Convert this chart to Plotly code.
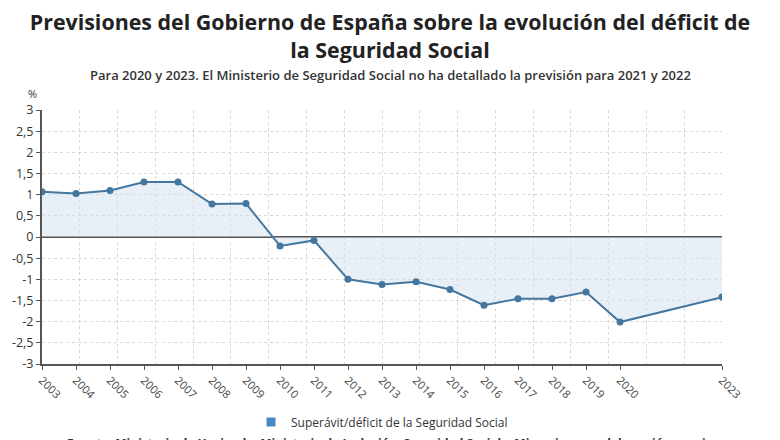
import plotly.graph_objects as go

years = [2003, 2004, 2005, 2006, 2007, 2008, 2009, 2010, 2011, 2012,
         2013, 2014, 2015, 2016, 2017, 2018, 2019, 2020, 2023]
values = [1.07, 1.03, 1.10, 1.30, 1.30, 0.78, 0.79, -0.21, -0.08, -1.00,
          -1.12, -1.06, -1.24, -1.61, -1.46, -1.46, -1.30, -2.01, -1.42]
y_tick_vals = [3, 2.5, 2, 1.5, 1, 0.5, 0, -0.5, -1, -1.5, -2, -2.5, -3]
y_tick_text = ["3", "2,5", "2", "1,5", "1", "0,5", "0", "-0,5", "-1", "-1,5", "-2", "-2,5", "-3"]
series_name = "Superávit/déficit de la Seguridad Social"

FONT = "Open Sans"
LINE = "#44779f"

fig = go.Figure()
fig.add_trace(go.Scatter(
    x=years, y=values, mode="lines+markers", fill="tozeroy",
    fillcolor="rgba(214,226,240,0.55)",
    line=dict(color=LINE, width=2), marker=dict(color=LINE, size=7),
    showlegend=False, name=series_name))
fig.add_trace(go.Scatter(
    x=[None], y=[None], mode="markers", name=series_name,
    marker=dict(symbol="square", color="#4a8ac4", size=9)))
# invisible helper trace to draw vertical grid on an overlay axis
fig.add_trace(go.Scatter(x=[0, 18], y=[0, 0], xaxis="x2", mode="none",
                         hoverinfo="skip", showlegend=False))

fig.update_layout(
    width=780, height=440,
    margin=dict(l=42, r=58, t=110, b=76, autoexpand=False),
    paper_bgcolor="white", plot_bgcolor="white",
    font=dict(family=FONT, color="#333"),
    title=dict(text="<b>Previsiones del Gobierno de España sobre la evolución del déficit de<br>la Seguridad Social</b>",
               x=0.5, xanchor="center", y=1 - 30 / 440, yanchor="middle",
               font=dict(family=FONT, size=21.4, color="#222")),
    xaxis=dict(range=[2003, 2023], tickvals=years, ticktext=[str(y) for y in years],
               tickangle=45, showgrid=False, zeroline=False, automargin=False,
               showline=True, linecolor="#555", linewidth=1.5,
               ticks="outside", ticklen=4, tickcolor="#555",
               tickfont=dict(size=11, color="#444")),
    xaxis2=dict(range=[0, 18], dtick=1, overlaying="x", showticklabels=False,
                showgrid=True, gridcolor="#d8d8d8", griddash="dot", gridwidth=1,
                zeroline=False, showline=False, ticks="", automargin=False),
    yaxis=dict(range=[-3, 3], tickvals=y_tick_vals, ticktext=y_tick_text,
               showgrid=True, gridcolor="#d8d8d8", griddash="dot", automargin=False,
               zeroline=True, zerolinecolor="#555", zerolinewidth=2,
               showline=True, linecolor="#555", linewidth=2,
               ticks="outside", ticklen=4, tickcolor="#555",
               tickfont=dict(size=12.5, color="#333")),
    legend=dict(orientation="h", x=0.5, xanchor="center", y=-58 / 254, yanchor="middle",
                font=dict(size=12, color="#333")),
    annotations=[
        dict(text="Para 2020 y 2023. El Ministerio de Seguridad Social no ha detallado la previsión para 2021 y 2022",
             xref="paper", yref="paper", x=(391 - 42) / 680, y=(364 - 75) / 254,
             xanchor="center", yanchor="middle", showarrow=False,
             font=dict(size=13, color="#333", weight=600)),
        dict(text="%", xref="paper", yref="paper", x=(32 - 42) / 680, y=(364 - 94) / 254,
             xanchor="center", yanchor="middle", showarrow=False,
             font=dict(size=11, color="#333")),
        dict(text="<b>Fuente: Ministerio de Hacienda, Ministerio de Inclusión, Seguridad Social y Migraciones y elaboración propia</b>",
             xref="paper", yref="paper", x=(390 - 42) / 680, y=(364 - 444) / 254,
             xanchor="center", yanchor="middle", showarrow=False,
             font=dict(size=12, color="#333")),
    ],
)

fig.write_html("out.html")
